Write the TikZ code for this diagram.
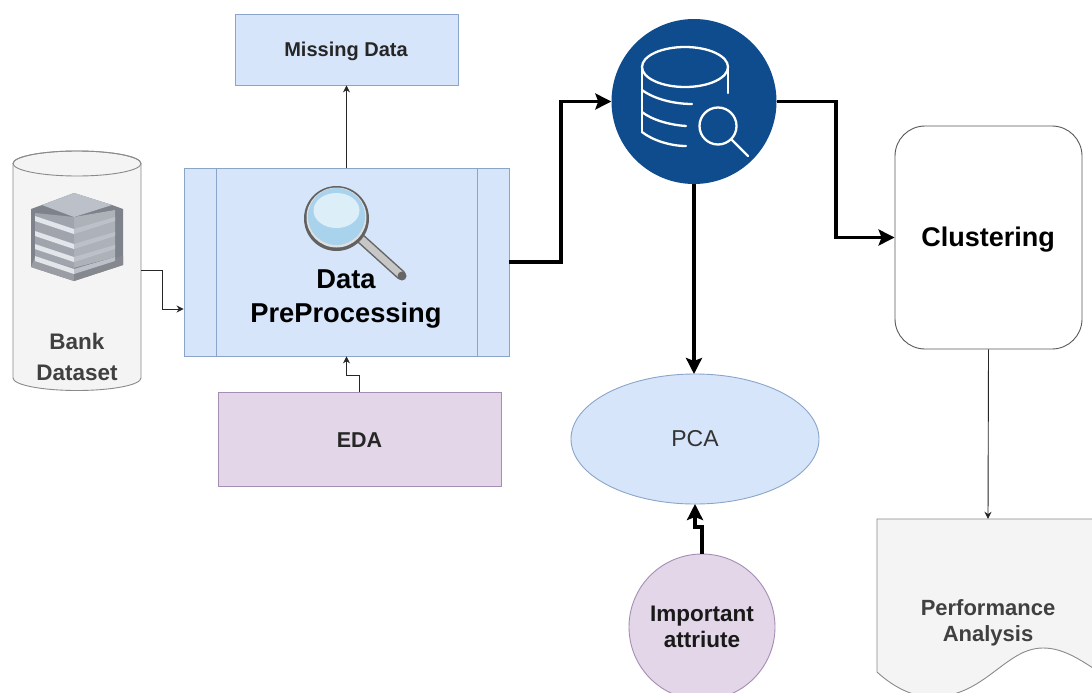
\documentclass[tikz,border=0pt]{standalone}
\usepackage{fontspec}
\setmainfont{Liberation Sans}
\usetikzlibrary{arrows.meta,shapes.geometric}
\definecolor{bluefill}{HTML}{D6E5FA}
\definecolor{bluedraw}{HTML}{8AA5C8}
\definecolor{purpfill}{HTML}{E2D6E8}
\definecolor{purpdraw}{HTML}{A58DB4}
\definecolor{grayfill}{HTML}{F4F4F4}
\definecolor{graydraw}{HTML}{8A8A8A}
\definecolor{navy}{HTML}{0F4C8E}
\definecolor{lensblue}{HTML}{A9D2EC}
\definecolor{lenslight}{HTML}{DCEFF8}
\definecolor{bldtop}{HTML}{BCC0C8}
\definecolor{bldedge}{HTML}{7E828A}
\definecolor{bldright}{HTML}{ADB1B8}
\definecolor{bldleft}{HTML}{A0A4AC}
\definecolor{bldlight}{HTML}{E2E5EA}
\definecolor{bldbandl}{HTML}{9A9DA3}
\definecolor{bldbandr}{HTML}{85888E}
\newcommand{\fs}[1]{\fontsize{#1}{#1}\selectfont}
\tikzset{
  box/.style={rectangle,draw,inner sep=0pt,line width=0.9pt},
  bluebox/.style={box,fill=bluefill,draw=bluedraw},
  purpbox/.style={box,fill=purpfill,draw=purpdraw},
  label text/.style={align=center,inner sep=0pt},
  thin link/.style={draw=black!85,line width=0.9pt,-{Stealth[length=7pt,width=7pt]}},
  thick link/.style={draw=black,line width=3.2pt,-{Stealth[length=16pt,width=16pt,inset=3pt]}},
}
\begin{document}
\begin{tikzpicture}[x=1pt,y=-1pt]
\clip (0,0) rectangle (1092,693);
\fill[white] (0,0) rectangle (1092,693);
% Bank dataset cylinder
\node[minimum width=128pt,minimum height=239pt,inner sep=0pt] (bank) at (77,270.5) {};
\draw[fill=grayfill,draw=graydraw,line width=0.9pt] (13,163.5) arc[start angle=180,end angle=0,x radius=64pt,y radius=12.5pt] -- (141,378) arc[start angle=360,end angle=180,x radius=64pt,y radius=12.5pt] -- cycle;
\draw[draw=graydraw,line width=0.9pt] (77,163.5) ellipse[x radius=64pt,y radius=12.5pt];
% building icon
\fill[bldedge] (31,209) -- (42,205) -- (74,193) -- (112,205) -- (123,209) -- (123,265) -- (74,281) -- (31,267) -- cycle;
\fill[bldright] (74,217) -- (115,210) -- (115,257) -- (74,268) -- cycle;
\fill[bldleft] (35,213) -- (74,217) -- (74,268) -- (35,257) -- cycle;
\fill[bldbandl] (31,267) -- (35,257) -- (74,268) -- (74,281) -- cycle;
\fill[bldbandr] (74,268) -- (123,256) -- (123,265) -- (74,281) -- cycle;
\fill[bldtop] (42,205) -- (74,193) -- (112,205) -- (74,217) -- cycle;
\foreach \yy in {218,233,246,258}{
  \fill[bldlight] (35,\yy-2) -- (74,\yy+11) -- (74,\yy+16) -- (35,\yy+3) -- cycle;
  \fill[bldtop] (74,\yy+11) -- (115,\yy-1) -- (115,\yy+3) -- (74,\yy+16) -- cycle;
}
\node[label text,text=black!75,font=\bfseries\fs{22.5}] (banktext) at (77,357) {Bank\\[8pt]Dataset};
% Main process
\node[bluebox,minimum width=325pt,minimum height=188pt] (main) at (346.5,262) {};
\draw[bluedraw,line width=0.9pt] (216,168) -- (216,356) (477,168) -- (477,356);
% magnifier
\draw[line width=10pt,line cap=round,black!60] (360,238) -- (401,275);
\draw[line width=7pt,line cap=round,black!22] (360,238) -- (401,275);
\fill[black!60] (402,276) circle (4.5pt);
\fill[black!62] (336.5,218.5) circle (32.5pt);
\fill[black!12] (336.5,217.5) circle (30pt);
\fill[lensblue] (336.5,216.5) circle (28.5pt);
\fill[lenslight] (336.5,210.5) ellipse[x radius=23pt,y radius=17.5pt];
\node[label text,text=black,font=\bfseries\fs{27.3}] (maintext) at (346,299) {Data\\[6pt]PreProcessing};
% Missing Data
\node[bluebox,minimum width=223pt,minimum height=71pt,text=black!85] (missing) at (346.5,49.5) {};
\node[font=\bfseries\fs{20},text=black!85,inner sep=0pt] (missingtext) at (346,51) {Missing Data};
% EDA
\node[purpbox,minimum width=283pt,minimum height=94pt] (eda) at (359.5,439) {};
\node[font=\bfseries\fs{21.5},text=black!85,inner sep=0pt] (edatext) at (359.5,440) {EDA};
% Search circle
\node[circle,fill=navy,minimum size=165pt,inner sep=0pt] (search) at (694,101.5) {};
\begin{scope}[draw=white,line width=2.3pt,line cap=round]
\draw (685,67) ellipse[x radius=43pt,y radius=20pt];
\draw (642,67) -- (642,132);
\draw (728,67) -- (728,93);
\draw (642,90) .. controls (654,99) and (674,104) .. (692,104);
\draw (642,112) .. controls (652,120) and (670,125) .. (686,126);
\draw (642,132) .. controls (652,140) and (670,146) .. (686,146);
\draw (718,126) circle (18.5pt);
\draw (732,140) -- (748,156);
\end{scope}
% Clustering
\node[rectangle,rounded corners=30pt,draw=black!65,fill=white,line width=0.9pt,minimum width=187pt,minimum height=223pt,inner sep=0pt] (clust) at (988.5,237.5) {};
\node[font=\bfseries\fs{27},text=black,inner sep=0pt] (clusttext) at (988,239.5) {Clustering};
% PCA
\node[ellipse,fill=bluefill,draw=bluedraw,line width=0.9pt,minimum width=248pt,minimum height=130pt,inner sep=0pt,font=\fs{23},text=black!80] (pca) at (695,439) {PCA};
% Important attribute
\node[circle,fill=purpfill,draw=purpdraw,line width=0.9pt,minimum size=146pt,inner sep=0pt,align=center,font=\bfseries\fs{22.5},text=black!90] (imp) at (702,627) {Important\\[3pt]attriute};
% Performance document
\node[minimum width=222pt,minimum height=174pt,inner sep=0pt] (doc) at (988,606) {};
\draw[fill=grayfill,draw=graydraw,line width=0.9pt] (877,672) -- (877,519) -- (1099,519) -- (1099,672) .. controls (1078,658) and (1062,648) .. (1043,648) .. controls (1005,648) and (985,697) .. (932,697) .. controls (910,697) and (890,684) .. (877,672) -- cycle;
\node[label text,text=black!75,font=\bfseries\fs{22}] (doctext) at (988,623) {Performance\\[4pt]Analysis};
% Connectors
\draw[thin link] (bank.east) -- (162,270.5) |- ([yshift=-47pt]main.west);
\draw[thin link] (main.north) -- (missing.south);
\draw[thin link] (eda.north) -- (359.5,375) -| (main.south);
\draw[thick link] (main.east) -- (561,262) |- (search.west);
\draw[thick link] (search.east) -- (836,101.5) |- (clust.west);
\draw[thick link] (search.south) -- (694,374);
\draw[thick link] (imp.north) -- (702,527) -- (695,527) -- (695,504);
\draw[thin link] (clust.south) -- (doc.north);
\end{tikzpicture}
\end{document}
